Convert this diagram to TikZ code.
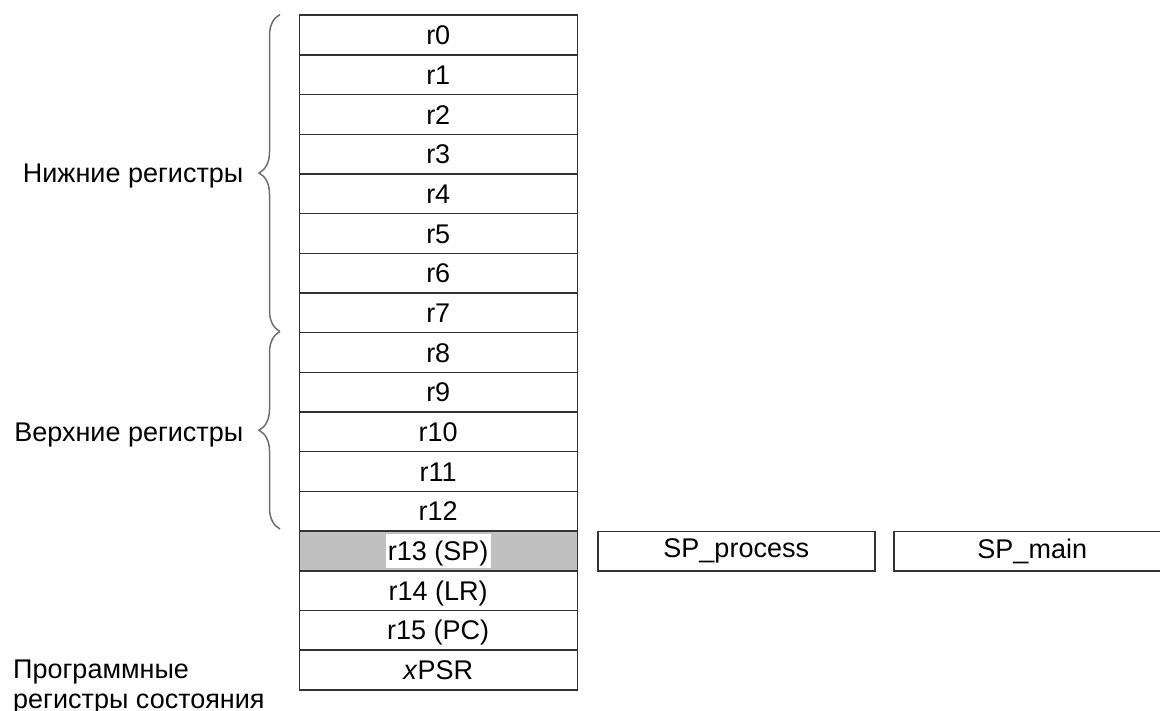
\documentclass[tikz,border=0pt]{standalone}
\usepackage{fontspec}
\setmainfont{Liberation Sans}
\usetikzlibrary{decorations.pathreplacing}
\newcommand\regfont{\fontsize{27}{30}\selectfont}
\definecolor{spgray}{HTML}{C0C0C0}
\definecolor{bracegray}{HTML}{6E6E6E}
\begin{document}
\begin{tikzpicture}[x=1pt,y=-1pt,
  reg/.style={draw=black!80, line width=1.5pt, minimum width=278pt,
    minimum height=39.68pt, inner sep=0pt, font=\regfont, anchor=north west,
    text height=19.3pt, text depth=0pt},
  spbox/.style={draw=black!80, line width=1.5pt, minimum width=277pt,
    minimum height=39.5pt, inner sep=0pt, font=\regfont, anchor=north west},
  grp/.style={font=\regfont, inner sep=0pt},
  bracestyle/.style={draw=bracegray, line width=1.5pt, decorate,
    decoration={brace, amplitude=21pt}}]
\useasboundingbox (0,0) rectangle (1160,711);
\clip (0,0) rectangle (1160,711);
% register column
\foreach \t [count=\i from 0] in {r0,r1,r2,r3,r4,r5,r6,r7,r8,r9,r10,r11,r12}
  \node[reg] (r\i) at (298.5, {14.5+39.68*\i}) {\t};
\node[reg, fill=spgray] (r13) at (298.5, {14.5+39.68*13}) {};
\node[fill=white, inner xsep=2pt, inner ysep=0pt, minimum height=34.5pt,
  font=\regfont, text height=19.3pt, text depth=0pt] (r13t) at (r13.center) {r13 (SP)};
\node[reg] (r14) at (298.5, {14.5+39.68*14}) {r14 (LR)};
\node[reg] (r15) at (298.5, {14.5+39.68*15}) {r15 (PC)};
\node[reg] (r16) at (298.5, {14.5+39.68*16}) {\textit{x}PSR};
% banked stack pointers
\node[spbox] (spp) at (597, 530.5) {SP\_process};
\node[spbox] (spm) at (893, 530.5) {SP\_main};
% braces
\coordinate (b1s) at (280, 331.5);
\coordinate (b1e) at (280, 14.5);
\coordinate (b2s) at (280, 529);
\coordinate (b2e) at (280, 331.5);
\draw[bracestyle] (b1s) -- (b1e);
\draw[bracestyle] (b2s) -- (b2e);
% labels
\node[grp, anchor=base east] (low) at (243.5, 183) {Нижние регистры};
\node[grp, anchor=base east] (high) at (243.5, 442) {Верхние регистры};
\node[grp, anchor=base west] (psr1) at (13, 678) {Программные};
\node[grp, anchor=base west] (psr2) at (13, 708) {регистры состояния};
\end{tikzpicture}
\end{document}
